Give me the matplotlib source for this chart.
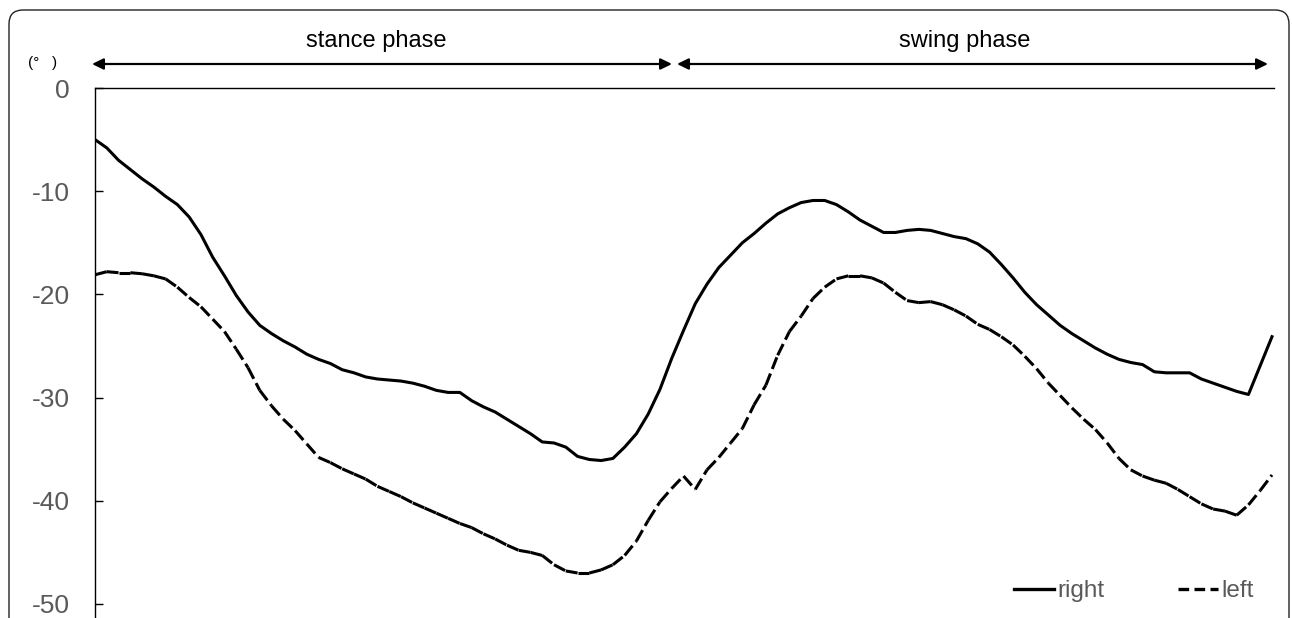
import numpy as np
import matplotlib
matplotlib.use("Agg")
import matplotlib.pyplot as plt
from matplotlib.collections import LineCollection
from matplotlib.lines import Line2D
from matplotlib.patches import FancyBboxPatch
from matplotlib.transforms import IdentityTransform

plt.rcParams['font.family'] = ['Liberation Sans', 'DejaVu Sans']
plt.rcParams['axes.unicode_minus'] = False

# gait cycle, 101 samples (0..100 %)
cycle = np.linspace(0, 100, 101)

right = [
    -5.0, -5.8, -7.0, -7.9, -8.8, -9.6, -10.5, -11.3, -12.5, -14.2,
    -16.4, -18.2, -20.1, -21.7, -23.0, -23.8, -24.5, -25.1, -25.8, -26.3,
    -26.7, -27.3, -27.6, -28.0, -28.2, -28.3, -28.4, -28.6, -28.9, -29.3,
    -29.5, -29.5, -30.3, -30.9, -31.4, -32.1, -32.8, -33.5, -34.3, -34.4,
    -34.8, -35.7, -36.0, -36.1, -35.9, -34.8, -33.5, -31.6, -29.2, -26.2,
    -23.5, -20.9, -19.0, -17.4, -16.2, -15.0, -14.1, -13.1, -12.2, -11.6,
    -11.1, -10.9, -10.9, -11.3, -12.0, -12.8, -13.4, -14.0, -14.0, -13.8,
    -13.7, -13.8, -14.1, -14.4, -14.6, -15.1, -15.9, -17.1, -18.4, -19.8,
    -21.0, -22.0, -23.0, -23.8, -24.5, -25.2, -25.8, -26.3, -26.6, -26.8,
    -27.5, -27.6, -27.6, -27.6, -28.2, -28.6, -29.0, -29.4, -29.7, -26.9,
    -24.1,
]

left = [
    -18.1, -17.8, -17.9, -17.9, -18.0, -18.2, -18.5, -19.3, -20.3, -21.2,
    -22.4, -23.6, -25.3, -27.1, -29.3, -30.8, -32.1, -33.2, -34.5, -35.8,
    -36.3, -36.9, -37.4, -37.9, -38.6, -39.1, -39.6, -40.2, -40.7, -41.2,
    -41.7, -42.2, -42.6, -43.2, -43.7, -44.3, -44.8, -45.0, -45.3, -46.2,
    -46.8, -47.0, -47.0, -46.7, -46.2, -45.3, -43.9, -41.9, -40.1, -38.8,
    -37.6, -38.9, -37.0, -35.8, -34.4, -33.0, -30.7, -28.8, -25.9, -23.6,
    -22.1, -20.4, -19.3, -18.5, -18.2, -18.2, -18.4, -18.9, -19.8, -20.6,
    -20.8, -20.7, -21.0, -21.5, -22.1, -22.9, -23.4, -24.1, -24.9, -26.0,
    -27.2, -28.6, -29.8, -31.0, -32.1, -33.1, -34.4, -35.9, -37.0, -37.6,
    -38.0, -38.3, -38.9, -39.6, -40.3, -40.8, -41.0, -41.4, -40.4, -39.0,
    -37.5,
]

yticks = [0, -10, -20, -30, -40, -50]
gray = '#595959'

W, H = 1292, 618
fig = plt.figure(figsize=(W / 100, H / 100), dpi=100)
ax = fig.add_axes([95 / W, 0, 1179 / W, 530 / H])

ax.plot(cycle, right, color='black', lw=2.2, solid_joinstyle='round')

# excel-like dashes: pattern restarts on every segment
pts = np.column_stack([cycle, left])
segs = np.stack([pts[:-1], pts[1:]], axis=1)
lc = LineCollection(segs, colors='black', linewidths=2.2,
                    linestyles=[(0, (4.1, 1.6))], capstyle='butt')
ax.add_collection(lc)

ax.set_xlim(0, 100 * 1179 / 1177)
ax.set_ylim(-51.36, 0)
ax.set_yticks(yticks)
ax.set_xticks([])
for s in ['right', 'bottom']:
    ax.spines[s].set_visible(False)
for s in ['top', 'left']:
    ax.spines[s].set_linewidth(1.0)
ax.tick_params(axis='y', direction='in', length=6, width=1.0, pad=18,
               labelsize=19, labelcolor=gray)

# phase arrows
arrow = dict(arrowstyle='<|-|>,head_length=0.45,head_width=0.22', lw=1.6,
             color='black', mutation_scale=15, shrinkA=0, shrinkB=0)
ax.annotate('', xy=(92, H - 64), xytext=(672, H - 64), xycoords='figure pixels',
            textcoords='figure pixels', arrowprops=arrow, annotation_clip=False)
ax.annotate('', xy=(677, H - 64), xytext=(1268, H - 64), xycoords='figure pixels',
            textcoords='figure pixels', arrowprops=arrow, annotation_clip=False)
fig.text(376 / W, 1 - 47 / H, 'stance phase', ha='center', va='baseline', fontsize=17)
fig.text(965 / W, 1 - 47 / H, 'swing phase', ha='center', va='baseline', fontsize=17)
fig.text(28 / W, 1 - 63 / H, '(°   )', ha='left', va='center', fontsize=11)

handles = [Line2D([], [], color='black', lw=2.4),
           Line2D([], [], color='black', lw=2.4, linestyle=(0, (3.2, 1.6)))]
leg = fig.legend(handles, ['right', 'left'], loc='center left', ncol=2,
                 bbox_to_anchor=(1014 / W, 1 - 591 / H), frameon=False,
                 fontsize=17.5, handlelength=1.65, handletextpad=0.15,
                 columnspacing=3.0, borderpad=0, borderaxespad=0)
for t in leg.get_texts():
    t.set_color(gray)

# rounded frame around the figure
frame = FancyBboxPatch((9, -60), 1280, H - 10 + 60, transform=IdentityTransform(),
                       boxstyle='round,pad=0,rounding_size=14', fill=False,
                       edgecolor='#222222', lw=1.0)
fig.patches.append(frame)

fig.savefig('out.png', dpi=100)
